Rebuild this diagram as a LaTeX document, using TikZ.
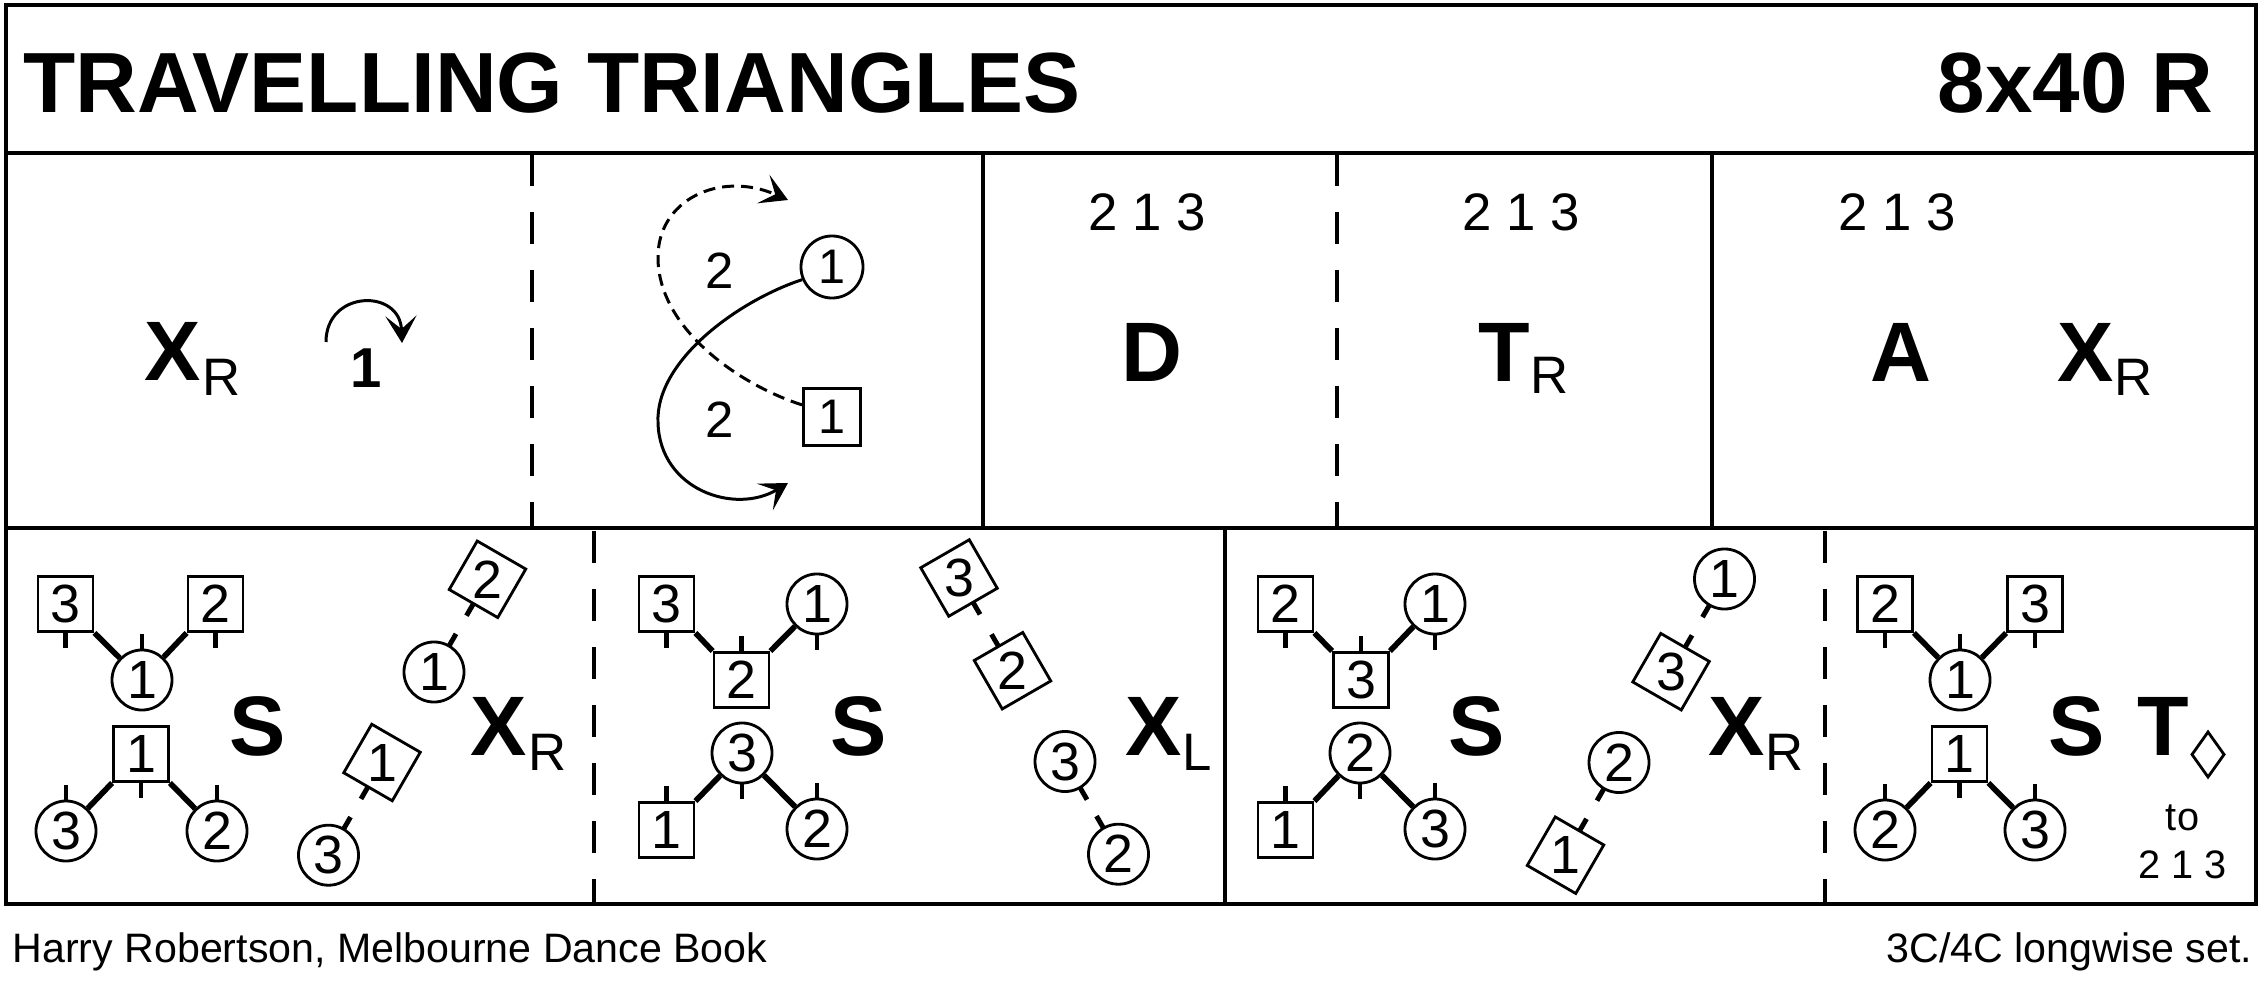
\documentclass[tikz,border=0pt]{standalone}
\usepackage{fontspec}
\setmainfont{Liberation Sans}
\usetikzlibrary{arrows.meta,calc}
\newcommand\fBig{\fontsize{24}{28}\selectfont\bfseries}
\newcommand\fTitle{\fontsize{24.3}{28}\selectfont\bfseries}
\newcommand\fOne{\fontsize{16}{19}\selectfont\bfseries}
\newcommand\fSub{\fontsize{15}{18}\selectfont}
\newcommand\fDig{\fontsize{15.3}{18}\selectfont}
\newcommand\fDigS{\fontsize{13.8}{16}\selectfont}
\newcommand\fLab{\fontsize{14.5}{17}\selectfont}
\newcommand\fFoot{\fontsize{11.7}{14}\selectfont}
\newcommand\fTo{\fontsize{11.3}{14}\selectfont}
\begin{document}
\begin{tikzpicture}[x=0.01cm,y=-0.01cm,
  framel/.style={line width=1.1pt},
  divl/.style={line width=0.9pt},
  dashdiv/.style={line width=0.9pt, dash pattern=on 0.32cm off 0.26cm},
  circ/.style={circle, draw, line width=0.8pt, minimum size=0.6cm, inner sep=0pt, font=\fDig},
  sqr/.style={rectangle, draw, line width=0.8pt, minimum size=0.55cm, inner sep=0pt, font=\fDig},
  dsq/.style={rectangle, draw, line width=0.8pt, minimum size=0.56cm, inner sep=0pt},
  lbl/.style={inner sep=0pt, font=\fDig},
  conn/.style={line width=1.6pt},
  tickl/.style={line width=1.4pt},
  bigl/.style={inner sep=0pt, anchor=base, font=\fBig},
  subl/.style={inner sep=0pt, anchor=base, font=\fSub},
  numl/.style={inner sep=0pt, anchor=base, font=\fSub},
  crv/.style={line width=0.85pt},
  arr/.style={-{Stealth[length=0.27cm,width=0.31cm,inset=0.13cm]}}
]
\useasboundingbox (0,0) rectangle (2267,988);
\fill[white] (0,0) rectangle (2267,988);
% frame
\draw[framel] (6,5) rectangle (2256,904);
\draw[framel] (6,153) -- (2256,153);
\draw[framel] (6,528) -- (2256,528);
% dividers
\draw[dashdiv] (532,154) -- (532,528);
\draw[divl] (983,153) -- (983,528);
\draw[dashdiv] (1337,154) -- (1337,528);
\draw[divl] (1712,153) -- (1712,528);
\draw[dashdiv] (594,531) -- (594,904);
\draw[divl] (1225,528) -- (1225,904);
\draw[dashdiv] (1825,531) -- (1825,904);
% title
\node[anchor=base west, inner sep=0pt, font=\fTitle] (title) at (23,113) {TRAVELLING TRIANGLES};
\node[anchor=base east, inner sep=0pt, font=\fTitle] (form) at (2214,113) {8x40 R};
% row 1 panel 1
\node[bigl] (r1x) at (172.5,380) {X};
\node[subl] (r1xr) at (221.5,395) {R};
\node[inner sep=0pt, anchor=base, font=\fOne] (r1one) at (366,387) {1};
\coordinate (arcS) at (326,342);
\coordinate (arcE) at (402,343);
\draw[crv,arr] (arcS) .. controls (326,290) and (400,288) .. (arcE);
% row 1 panel 2
\node[circ, minimum size=0.62cm, font=\fDigS] (p2c) at (832,267) {1};
\node[sqr, minimum size=0.57cm, font=\fDigS] (p2s) at (832,417) {1};
\node[inner sep=0pt, anchor=base, font=\fLab] (p2l1) at (719.5,288) {2};
\node[inner sep=0pt, anchor=base, font=\fLab] (p2l2) at (719.5,437) {2};
\coordinate (p2e1) at (788,483);
\coordinate (p2e2) at (788,200);
\draw[crv,arr] (p2c.203) .. controls (740,300) and (655,360) .. (658,423) .. controls (660,490) and (735,515) .. (p2e1);
\draw[crv,arr,dash pattern=on 0.12cm off 0.07cm] (p2s.158) .. controls (740,385) and (660,330) .. (658,260) .. controls (656,200) and (720,170) .. (p2e2);
% row 1 panels 3-5
\node[numl] (p3n) at (1147,231) {2 1 3};
\node[bigl] (p3d) at (1151.5,381) {D};
\node[numl] (p4n) at (1521,231) {2 1 3};
\node[bigl] (p4t) at (1504,381) {T};
\node[subl] (p4r) at (1550,393) {R};
\node[numl] (p5n) at (1897.5,231) {2 1 3};
\node[bigl] (p5a) at (1901,381) {A};
\node[bigl] (p5x) at (2086,381) {X};
\node[subl] (p5r) at (2133.5,395) {R};
% ===== row 2 panel 1
\node[sqr] (a3) at (65.5,604) {3};
\node[sqr] (a2) at (215.5,604) {2};
\node[circ] (a1) at (142,680) {1};
\node[sqr] (b1) at (141,754) {1};
\node[circ] (b3) at (66,831) {3};
\node[circ] (b2) at (217,831) {2};
\draw[conn] (a3.south east) -- (a1);
\draw[conn] (a2.south west) -- (a1);
\draw[conn] (b1.south west) -- (b3);
\draw[conn] (b1.south east) -- (b2);
\draw[tickl] (a3.south) -- ++(0,15);
\draw[tickl] (a2.south) -- ++(0,15);
\draw[tickl] (a1.north) -- ++(0,-15);
\draw[tickl] (b1.south) -- ++(0,15);
\draw[tickl] (b3.north) -- ++(0,-15);
\draw[tickl] (b2.north) -- ++(0,-15);
\node[circ] (a1p) at (434,672) {1};
\node[dsq, rotate=-30] (a2p) at (487.5,579.3) {};
\node[lbl] (a2pt) at (a2p) {2};
\node[dsq, rotate=-30] (b1p) at (382,762.5) {};
\node[lbl] (b1pt) at (b1p) {1};
\node[circ] (b3p) at (328.5,855.2) {3};
\draw[tickl] ($(a1p)!0.3cm!(a2p)$) -- ($(a1p)!0.44cm!(a2p)$);
\draw[tickl] ($(a2p)!0.28cm!(a1p)$) -- ($(a2p)!0.42cm!(a1p)$);
\draw[tickl] ($(b3p)!0.3cm!(b1p)$) -- ($(b3p)!0.44cm!(b1p)$);
\draw[tickl] ($(b1p)!0.28cm!(b3p)$) -- ($(b1p)!0.42cm!(b3p)$);
\node[bigl] (q1s) at (257.5,755) {S};
\node[bigl] (q1x) at (499,755) {X};
\node[subl] (q1r) at (547.5,770) {R};
% ===== row 2 panel 2
\node[sqr] (c3) at (666.5,604) {3};
\node[circ] (c1) at (817,604) {1};
\node[sqr] (c2) at (741.5,680) {2};
\node[circ] (d3) at (742,753) {3};
\node[sqr] (d1) at (666.5,830) {1};
\node[circ] (d2) at (817,829) {2};
\draw[conn] (c3.south east) -- (c2.north west);
\draw[conn] (c1) -- (c2.north east);
\draw[conn] (d1.north east) -- (d3);
\draw[conn] (d3) -- (d2);
\draw[tickl] (c3.south) -- ++(0,15);
\draw[tickl] (c1.south) -- ++(0,15);
\draw[tickl] (c2.north) -- ++(0,-15);
\draw[tickl] (d3.south) -- ++(0,15);
\draw[tickl] (d1.north) -- ++(0,-15);
\draw[tickl] (d2.north) -- ++(0,-15);
\node[dsq, rotate=30] (c3p) at (959,578) {};
\node[lbl] (c3pt) at (c3p) {3};
\node[dsq, rotate=30] (c2p) at (1012.5,670.7) {};
\node[lbl] (c2pt) at (c2p) {2};
\node[circ] (d3p) at (1065,761.5) {3};
\node[circ] (d2p) at (1118.5,854.2) {2};
\draw[tickl] ($(c3p)!0.28cm!(c2p)$) -- ($(c3p)!0.42cm!(c2p)$);
\draw[tickl] ($(c2p)!0.28cm!(c3p)$) -- ($(c2p)!0.42cm!(c3p)$);
\draw[tickl] ($(d3p)!0.3cm!(d2p)$) -- ($(d3p)!0.44cm!(d2p)$);
\draw[tickl] ($(d2p)!0.3cm!(d3p)$) -- ($(d2p)!0.44cm!(d3p)$);
\node[bigl] (q2s) at (858.5,755) {S};
\node[bigl] (q2x) at (1153.5,755) {X};
\node[subl] (q2l) at (1197,770) {L};
% ===== row 2 panel 3
\node[sqr] (e2) at (1285.5,604) {2};
\node[circ] (e1) at (1435,604) {1};
\node[sqr] (e3) at (1361,680) {3};
\node[circ] (f2) at (1360,753) {2};
\node[sqr] (f1) at (1285.5,830) {1};
\node[circ] (f3) at (1435,829) {3};
\draw[conn] (e2.south east) -- (e3.north west);
\draw[conn] (e1) -- (e3.north east);
\draw[conn] (f1.north east) -- (f2);
\draw[conn] (f2) -- (f3);
\draw[tickl] (e2.south) -- ++(0,15);
\draw[tickl] (e1.south) -- ++(0,15);
\draw[tickl] (e3.north) -- ++(0,-15);
\draw[tickl] (f2.south) -- ++(0,15);
\draw[tickl] (f1.north) -- ++(0,-15);
\draw[tickl] (f3.north) -- ++(0,-15);
\node[circ] (e1p) at (1724.5,579) {1};
\node[dsq, rotate=-30] (e3p) at (1671,671.7) {};
\node[lbl] (e3pt) at (e3p) {3};
\node[circ] (f2p) at (1619,762.5) {2};
\node[dsq, rotate=-30] (f1p) at (1565.5,855.2) {};
\node[lbl] (f1pt) at (f1p) {1};
\draw[tickl] ($(e1p)!0.3cm!(e3p)$) -- ($(e1p)!0.44cm!(e3p)$);
\draw[tickl] ($(e3p)!0.28cm!(e1p)$) -- ($(e3p)!0.42cm!(e1p)$);
\draw[tickl] ($(f2p)!0.3cm!(f1p)$) -- ($(f2p)!0.44cm!(f1p)$);
\draw[tickl] ($(f1p)!0.28cm!(f2p)$) -- ($(f1p)!0.42cm!(f2p)$);
\node[bigl] (q3s) at (1477,755) {S};
\node[bigl] (q3x) at (1737,755) {X};
\node[subl] (q3r) at (1784.5,770) {R};
% ===== row 2 panel 4
\node[sqr] (g2) at (1885,604) {2};
\node[sqr] (g3) at (2035,604) {3};
\node[circ] (g1) at (1960,680) {1};
\node[sqr] (h1) at (1959.5,754) {1};
\node[circ] (h2) at (1885,830) {2};
\node[circ] (h3) at (2035,830) {3};
\draw[conn] (g2.south east) -- (g1);
\draw[conn] (g3.south west) -- (g1);
\draw[conn] (h1.south west) -- (h2);
\draw[conn] (h1.south east) -- (h3);
\draw[tickl] (g2.south) -- ++(0,15);
\draw[tickl] (g3.south) -- ++(0,15);
\draw[tickl] (g1.north) -- ++(0,-15);
\draw[tickl] (h1.south) -- ++(0,15);
\draw[tickl] (h2.north) -- ++(0,-15);
\draw[tickl] (h3.north) -- ++(0,-15);
\node[bigl] (q4s) at (2077,755) {S};
\node[bigl] (q4t) at (2163,755) {T};
\draw[line width=0.8pt] (2208,732) -- (2224,754.5) -- (2208,777) -- (2192,754.5) -- cycle;
\node[inner sep=0pt, anchor=base, font=\fTo] (q4to) at (2182.5,830) {to};
\node[inner sep=0pt, anchor=base, font=\fTo] (q4n) at (2182.5,878) {2 1 3};
% footer
\node[anchor=base west, inner sep=0pt, font=\fFoot] (foot1) at (12,962) {Harry Robertson, Melbourne Dance Book};
\node[anchor=base east, inner sep=0pt, font=\fFoot] (foot2) at (2253,962) {3C/4C longwise set.};
\end{tikzpicture}
\end{document}
